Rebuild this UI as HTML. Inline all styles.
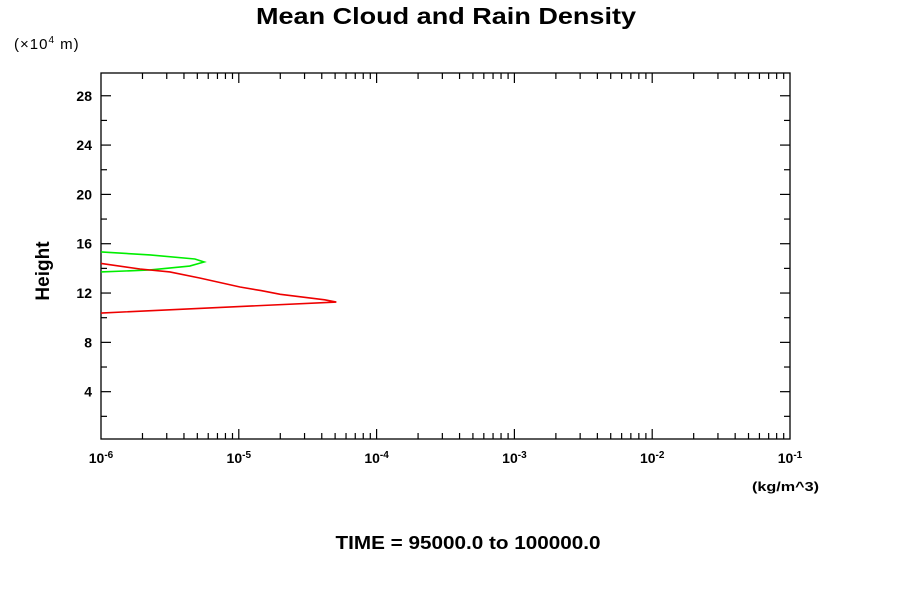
<!DOCTYPE html>
<html><head><meta charset="utf-8"><style>
body{margin:0;background:#fff;}
svg{display:block;font-family:"Liberation Sans",sans-serif;}
</style></head><body>
<svg id="chart" width="900" height="600">
<text x="446" y="24" font-size="23" font-weight="bold" text-anchor="middle" textLength="380" lengthAdjust="spacingAndGlyphs">Mean Cloud and Rain Density</text>
<text x="14" y="49" font-size="15" letter-spacing="1">(×10<tspan font-size="10" dy="-6">4</tspan><tspan dy="6"> m)</tspan></text>
<text x="49" y="271" font-size="19" font-weight="bold" text-anchor="middle" transform="rotate(-90 49 271)">Height</text>
<text x="752" y="491" font-size="13" font-weight="bold" textLength="67" lengthAdjust="spacingAndGlyphs">(kg/m^3)</text>
<text x="468" y="549" font-size="18" font-weight="bold" text-anchor="middle" textLength="265" lengthAdjust="spacingAndGlyphs">TIME = 95000.0 to 100000.0</text>
<rect x="101" y="73" width="689" height="366" fill="none" stroke="#000" stroke-width="1.3"/>
<g id="axes"></g>
<g id="series"></g>
</svg>
<script>
const xDecades=[-6,-5,-4,-3,-2,-1];
const yTicks=[4,8,12,16,20,24,28];
const yMinor=[2,6,10,14,18,22,26];
const rainDensity=[1e-6,5.1e-5,4.2e-5,3.0e-5,2.0e-5,1.45e-5,1.02e-5,5.2e-6,3.16e-6,1.92e-6,1e-6];
const rainHeight=[10.38,11.27,11.45,11.65,11.9,12.2,12.49,13.22,13.71,13.95,14.4];
const cloudDensity=[1e-6,2.27e-6,4.8e-6,5.6e-6,4.4e-6,2.27e-6,1e-6];
const cloudHeight=[15.33,15.09,14.76,14.52,14.19,13.87,13.71];
const NS="http://www.w3.org/2000/svg";
const L=101,R=790,T=73,B=439;
function xs(v){return L+(Math.log10(v)+6)/5*(R-L);}
function ys(h){return 441-h*12.33;}
const ax=document.getElementById('axes');
function line(x1,y1,x2,y2,name){const l=document.createElementNS(NS,'line');
l.setAttribute('x1',x1);l.setAttribute('y1',y1);l.setAttribute('x2',x2);l.setAttribute('y2',y2);
l.setAttribute('stroke','#000');l.setAttribute('stroke-width','1.2');


ax.appendChild(l);}
function text(x,y,s,anchor,name){const t=document.createElementNS(NS,'text');
t.setAttribute('x',x);t.setAttribute('y',y);t.setAttribute('font-size','14');t.setAttribute('font-weight','bold');t.setAttribute('text-anchor',anchor);
t.innerHTML=s;


ax.appendChild(t);return t;}
yTicks.forEach(v=>{const y=ys(v);line(L,y,L+10,y,'y-tick');line(R,y,R-10,y,'y-tick');text(92,y+5,String(v),'end','y-tick-label');});
yMinor.forEach(v=>{const y=ys(v);line(L,y,L+6,y,'y-minor-tick');line(R,y,R-6,y,'y-minor-tick');});
xDecades.forEach((d,i)=>{const x=xs(Math.pow(10,d));
if(i>0&&i<xDecades.length-1){line(x,B,x,B-10,'x-tick');line(x,T,x,T+10,'x-tick');}
text(x,463,'10<tspan font-size="10" dy="-5">'+d+'</tspan>','middle','x-tick-label');
if(i<xDecades.length-1){for(let m=2;m<=9;m++){const xm=xs(m*Math.pow(10,d));line(xm,B,xm,B-6,'x-minor-tick');line(xm,T,xm,T+6,'x-minor-tick');}}});
const sg=document.getElementById('series');
function poly(xsA,ysA,color,name){const p=document.createElementNS(NS,'polyline');
p.setAttribute('points',xsA.map((v,i)=>xs(v)+','+ys(ysA[i])).join(' '));
p.setAttribute('fill','none');p.setAttribute('stroke',color);p.setAttribute('stroke-width','1.6');


sg.appendChild(p);}
poly(cloudDensity,cloudHeight,'#00ee00','cloud-density-line');
poly(rainDensity,rainHeight,'#ee0000','rain-density-line');
</script>
</body></html>
